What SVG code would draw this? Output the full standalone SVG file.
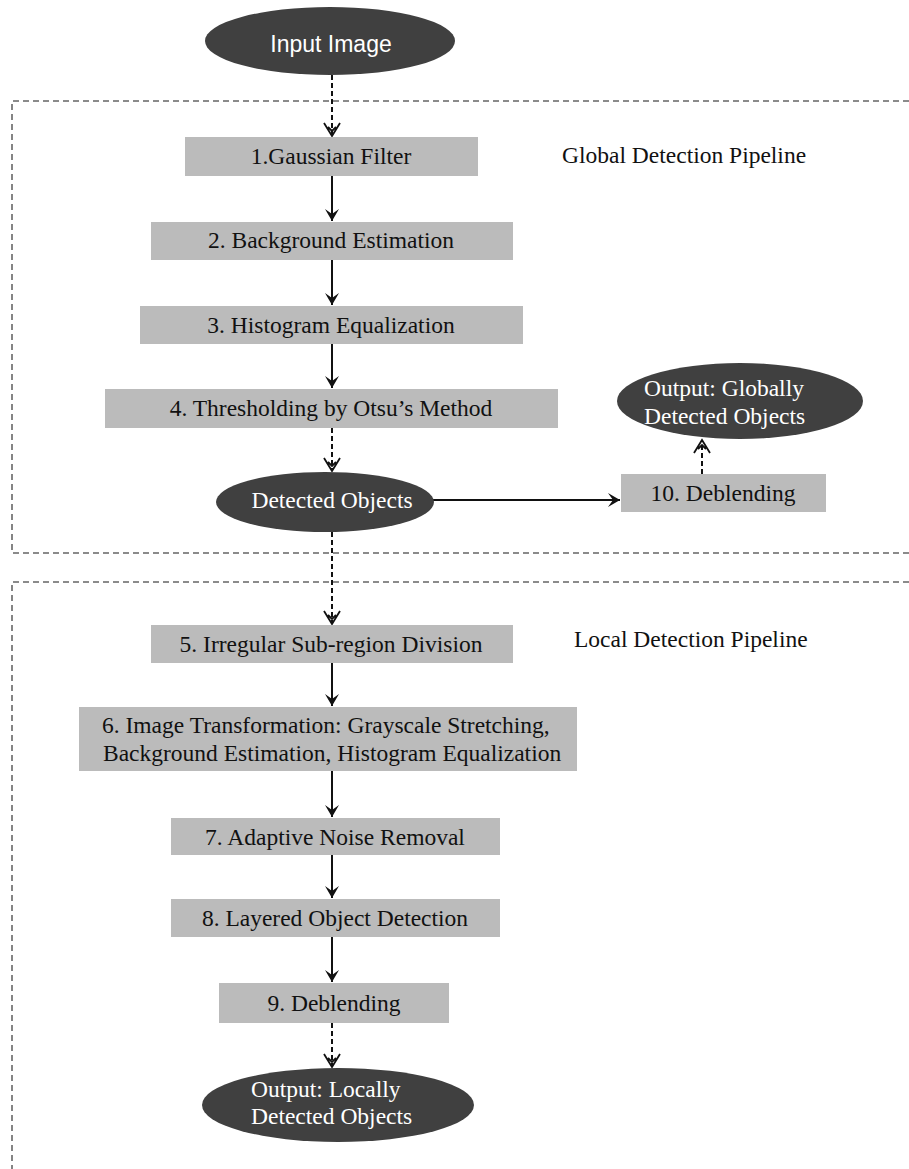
<svg xmlns="http://www.w3.org/2000/svg" width="909" height="1169" viewBox="0 0 909 1169">
<defs>
<marker id="solid" viewBox="0 0 14 16" refX="13" refY="8" markerWidth="14" markerHeight="16" markerUnits="userSpaceOnUse" orient="auto">
<path d="M1,1 L13,8 L1,15 L6,8 Z" fill="#111"/>
</marker>
<style>
.box{fill:#bbbbbb;}
.ell{fill:#404040;}
.t{font-family:"Liberation Serif","Times New Roman",serif;font-size:23.5px;fill:#111;}
.tw{font-family:"Liberation Serif","Times New Roman",serif;font-size:23.5px;fill:#fff;}
.ts{font-family:"Liberation Sans",Arial,sans-serif;font-size:23px;fill:#fff;}
.frame{fill:none;stroke:#666;stroke-width:1.6;stroke-dasharray:6 4;}
.sl{stroke:#111;stroke-width:2;fill:none;}
.dl{stroke:#111;stroke-width:2;fill:none;stroke-dasharray:5 3;}
.oh{stroke:#111;stroke-width:1.8;fill:none;}
</style>
</defs>
<g id="frames">
<path class="frame" d="M909,101 L12,101 L12,553 L909,553"/>
<path class="frame" d="M909,582 L12,582 L12,1169"/>
</g>
<g id="connectors">
<line class="dl" x1="332" y1="75" x2="332" y2="136"/>
<path class="oh" d="M324,123 L332,136 L340,123 M328,127 L332,131 L336,127"/>
<line class="sl" x1="332" y1="176" x2="332" y2="221" marker-end="url(#solid)"/>
<line class="sl" x1="332" y1="260" x2="332" y2="305" marker-end="url(#solid)"/>
<line class="sl" x1="332" y1="344" x2="332" y2="388" marker-end="url(#solid)"/>
<line class="dl" x1="332" y1="428" x2="332" y2="471"/>
<path class="oh" d="M324,458 L332,471 L340,458 M328,462 L332,466 L336,462"/>
<line class="dl" x1="332" y1="532" x2="332" y2="624"/>
<path class="oh" d="M324,611 L332,624 L340,611 M328,615 L332,619 L336,615"/>
<line class="sl" x1="433" y1="500" x2="620" y2="500" marker-end="url(#solid)"/>
<line class="dl" x1="702" y1="474" x2="702" y2="440"/>
<path class="oh" d="M694,453 L702,440 L710,453 M698,449 L702,445 L706,449"/>
<line class="sl" x1="332" y1="663" x2="332" y2="706" marker-end="url(#solid)"/>
<line class="sl" x1="332" y1="771" x2="332" y2="817" marker-end="url(#solid)"/>
<line class="sl" x1="332" y1="855" x2="332" y2="898" marker-end="url(#solid)"/>
<line class="sl" x1="332" y1="937" x2="332" y2="982" marker-end="url(#solid)"/>
<line class="dl" x1="332" y1="1023" x2="332" y2="1067"/>
<path class="oh" d="M324,1054 L332,1067 L340,1054 M328,1058 L332,1062 L336,1058"/>
</g>
<g id="input">
<ellipse class="ell" cx="330" cy="41" rx="125" ry="34"/>
<text class="ts" x="331" y="52" text-anchor="middle">Input Image</text>
</g>
<g id="n1">
<rect class="box" x="185" y="137" width="293" height="39"/>
<text class="t" x="331" y="164" text-anchor="middle">1.Gaussian Filter</text>
</g>
<g id="n2">
<rect class="box" x="151" y="222" width="362" height="38"/>
<text class="t" x="331" y="248" text-anchor="middle">2. Background Estimation</text>
</g>
<g id="n3">
<rect class="box" x="140" y="306" width="383" height="38"/>
<text class="t" x="331" y="333" text-anchor="middle">3. Histogram Equalization</text>
</g>
<g id="n4">
<rect class="box" x="105" y="389" width="453" height="39"/>
<text class="t" x="331" y="416" text-anchor="middle">4. Thresholding by Otsu’s Method</text>
</g>
<g id="detected">
<ellipse class="ell" cx="325" cy="502" rx="109" ry="30"/>
<text class="tw" x="332" y="508" text-anchor="middle">Detected Objects</text>
</g>
<g id="n10">
<rect class="box" x="621" y="474" width="205" height="38"/>
<text class="t" x="723" y="501" text-anchor="middle">10. Deblending</text>
</g>
<g id="outGlobal">
<ellipse class="ell" cx="740" cy="401" rx="123" ry="38"/>
<text class="tw" x="644" y="396">Output: Globally</text>
<text class="tw" x="644" y="424">Detected Objects</text>
</g>
<g id="labelGlobal">
<text class="t" x="562" y="163">Global Detection Pipeline</text>
</g>
<g id="labelLocal">
<text class="t" x="574" y="647">Local Detection Pipeline</text>
</g>
<g id="n5">
<rect class="box" x="151" y="625" width="362" height="38"/>
<text class="t" x="331" y="652" text-anchor="middle">5. Irregular Sub-region Division</text>
</g>
<g id="n6">
<rect class="box" x="79" y="707" width="498" height="64"/>
<text class="t" x="102" y="733">6. Image Transformation: Grayscale Stretching,</text>
<text class="t" x="103" y="761">Background Estimation, Histogram Equalization</text>
</g>
<g id="n7">
<rect class="box" x="171" y="818" width="329" height="37"/>
<text class="t" x="335" y="845" text-anchor="middle">7. Adaptive Noise Removal</text>
</g>
<g id="n8">
<rect class="box" x="171" y="899" width="329" height="38"/>
<text class="t" x="335" y="926" text-anchor="middle">8. Layered Object Detection</text>
</g>
<g id="n9">
<rect class="box" x="219" y="983" width="230" height="40"/>
<text class="t" x="334" y="1011" text-anchor="middle">9. Deblending</text>
</g>
<g id="outLocal">
<ellipse class="ell" cx="338" cy="1105" rx="136" ry="37"/>
<text class="tw" x="251" y="1097">Output: Locally</text>
<text class="tw" x="251" y="1124">Detected Objects</text>
</g>
</svg>
